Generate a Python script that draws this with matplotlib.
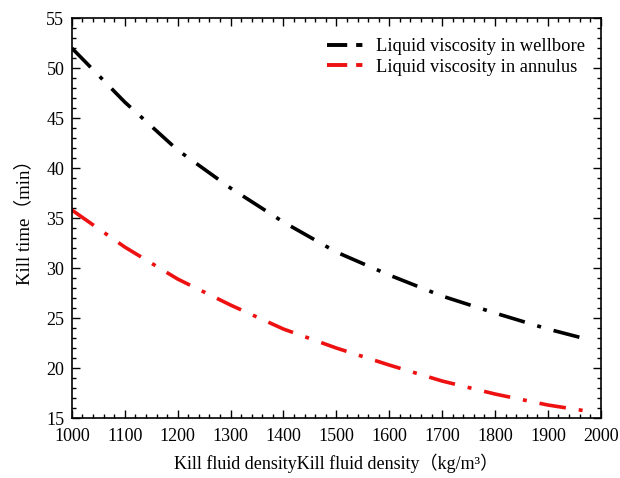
import matplotlib
matplotlib.use("Agg")
import matplotlib.pyplot as plt
from matplotlib.lines import Line2D
from matplotlib.ticker import MultipleLocator

plt.rcParams['font.family'] = ['Liberation Serif', 'Noto Sans CJK SC']

density = [1000, 1100, 1200, 1300, 1400, 1500, 1600, 1700, 1800, 1900, 1980]
time_wellbore = [52.0, 46.6, 41.8, 38.0, 34.6, 31.6, 29.3, 27.2, 25.5, 23.9, 22.8]
density_annulus = [1000, 1100, 1200, 1300, 1400, 1500, 1600, 1700, 1800, 1900, 1985]
time_annulus = [35.8, 32.1, 28.9, 26.3, 23.9, 22.0, 20.3, 18.7, 17.4, 16.3, 15.6]
labels = ['Liquid viscosity in wellbore', 'Liquid viscosity in annulus']
colors = ['black', '#ee1111']

x_ticks = list(range(1000, 2001, 100))
y_ticks = list(range(15, 56, 5))

fig = plt.figure(figsize=(6.2, 4.78), dpi=100)
ax = fig.add_axes([0.116, 0.1255, 0.853, 0.8365])

lw = 2.6
dash = (7.4, 3.6, 1.1, 3.6)
ax.plot(density, time_wellbore, color=colors[0], lw=lw, dashes=dash)
ax.plot(density_annulus, time_annulus, color=colors[1], lw=lw, dashes=dash)

ax.set_xlim(1000, 2000)
ax.set_ylim(15, 55)
ax.set_xticks(x_ticks)
ax.set_yticks(y_ticks)
ax.xaxis.set_minor_locator(MultipleLocator(20))
ax.yaxis.set_minor_locator(MultipleLocator(1))
ax.tick_params(which='both', direction='in', top=True, right=True,
               labelsize=13, width=1.0)
ax.tick_params(which='major', length=6)
ax.tick_params(which='minor', length=3)
ax.tick_params(axis='x', which='major', pad=7.5)
ax.tick_params(axis='y', which='major', pad=5.5)
for s in ax.spines.values():
    s.set_linewidth(1.2)

ax.set_xlabel('Kill fluid densityKill fluid density（kg/m³）', fontsize=13, labelpad=6)
ax.set_ylabel('Kill time（min）', fontsize=13.5, labelpad=9)

# compact legend keys: one dash followed by one dot
key_dash = (5.2, 2.3, 1.6, 2.3)
handles = [Line2D([], [], color=c, lw=2.8, dashes=key_dash) for c in colors]
leg = ax.legend(handles, labels, loc='upper right', frameon=False, fontsize=13.3,
                handlelength=2.0, handletextpad=0.65, borderaxespad=0.47,
                labelspacing=0.2, bbox_to_anchor=(1.0, 0.99))

fig.savefig('out.png', dpi=100)
